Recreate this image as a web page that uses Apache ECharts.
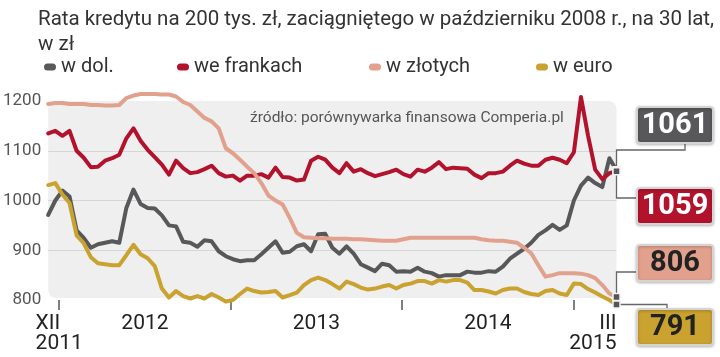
<!DOCTYPE html>
<html><head><meta charset="utf-8">
<script src="https://cdn.jsdelivr.net/npm/echarts@6/dist/echarts.min.js"></script>
<style>html,body{margin:0;padding:0;background:#fff}#c{width:720px;height:357px}</style>
</head><body><div id="c"></div>
<script>
// ---- text ----
const titleText = 'Rata kredytu na 200 tys. zł, zaciągniętego w październiku 2008 r., na 30 lat,\nw zł';
const sourceText = 'źródło: porównywarka finansowa Comperia.pl';
const seriesNames = ['w dol.', 'we frankach', 'w złotych', 'w euro'];
// ---- axes (x in months relative to I 2012) ----
const startMonth = -0.77;   // ~ early XII 2011
const endMonth = 39.0;      // end of III 2015
const yearTicks = [0, 12, 24, 36];
const xLabelValues = [0, 6, 18, 30, 39];
const xLabelTexts = ['{l|XII}\n{l|2011}', '2012', '2013', '2014', '{r|III}\n{r|2015}'];
const yMin = 800, yMax = 1200, yStep = 100;
// ---- data (PLN, roughly semi-monthly) ----
const usd = [971,1000,1020,1008,940,925,905,912,915,918,915,985,1022,993,985,984,970,950,948,917,915,
  907,920,918,898,888,882,878,880,880,892,905,918,895,897,908,912,898,932,933,905,
  893,908,893,872,865,858,873,870,857,858,857,865,857,854,847,850,850,850,857,855,
  855,858,857,867,883,893,903,915,931,940,951,941,950,1000,1030,1046,1035,1027,1085,1061];
const chf = [1135,1140,1130,1140,1100,1086,1067,1068,1080,1085,1092,1125,1145,1120,1102,1087,1072,1052,1080,1065,1055,
  1057,1063,1070,1055,1048,1050,1040,1050,1050,1053,1046,1066,1047,1046,1040,1042,1080,1088,1082,1066,
  1055,1075,1058,1063,1055,1049,1053,1057,1062,1053,1048,1062,1058,1066,1077,1063,1066,1065,1064,1052,
  1045,1055,1055,1058,1070,1080,1074,1070,1070,1082,1086,1082,1075,1097,1208,1130,1062,1043,1055,1059];
const pln = [1194,1196,1196,1194,1194,1194,1192,1192,1191,1191,1192,1206,1211,1214,1214,1214,1213,1213,1209,1198,1192,
  1179,1166,1159,1145,1105,1095,1082,1068,1055,1035,1010,1000,992,965,935,926,925,924,924,923,
  923,923,922,922,921,920,919,919,919,922,925,925,925,925,925,925,925,925,925,925,
  922,920,919,919,917,915,905,894,870,847,850,854,854,854,853,850,844,830,813,806];
const eur = [1031,1035,1012,995,930,914,886,874,872,870,870,890,911,892,884,868,823,805,818,808,803,
  808,803,812,805,797,800,812,823,818,815,816,818,805,810,815,830,840,845,840,832,
  823,837,832,825,821,823,827,830,823,830,833,838,838,833,840,837,840,840,835,820,
  820,817,813,820,823,823,816,812,810,818,820,813,810,833,832,822,815,807,800,791];

const colors = ['#58585a', '#b3122d', '#e2a18d', '#c9a22f'];
const textColors = ['#ffffff', '#ffffff', '#222222', '#222222'];
const allData = [usd, chf, pln, eur];
const xs = usd.map((_, i) => startMonth + i * (endMonth - startMonth) / (usd.length - 1));

const FONT = "Roboto, 'Noto Sans', sans-serif";
const capsule = 'path://M3.5,0 L8.5,0 A3.5,3.5 0 0 1 8.5,7 L3.5,7 A3.5,3.5 0 0 1 3.5,0 Z';
const legendLefts = [44, 177, 369, 536];

const chart = echarts.init(document.getElementById('c'));
chart.setOption({
  animation: false,
  textStyle: {fontFamily: FONT},
  title: [
    {text: titleText, left: 33, top: 2,
     textStyle: {fontFamily: FONT, fontSize: 20.5, fontWeight: 'normal', color: '#333', lineHeight: 25}},
    {text: sourceText, left: 245, top: 105,
     textStyle: {fontFamily: FONT, fontSize: 15.5, fontWeight: 'normal', color: '#555'}}
  ],
  legend: seriesNames.map((n, i) => ({
    data: [n], left: legendLefts[i], top: 57, icon: capsule, itemWidth: 12, itemHeight: 7,
    padding: 0, selectedMode: false,
    textStyle: {fontFamily: FONT, fontSize: 20, color: '#333', padding: [0, 0, 0, 0]}
  })),
  grid: {left: 47, right: 103.5, top: 101, height: 199, show: false},
  xAxis: {
    type: 'value', min: startMonth, max: endMonth,
    axisLine: {show: false}, splitLine: {show: false},
    axisTick: {show: true, customValues: yearTicks, length: 10, lineStyle: {color: '#555', width: 1.5}},
    axisLabel: {
      customValues: xLabelValues, margin: 14, alignMaxLabel: 'right',
      fontFamily: FONT, fontSize: 21, color: '#222', lineHeight: 20,
      formatter: v => { const k = xLabelValues.indexOf(v); return k >= 0 ? xLabelTexts[k] : ''; },
      rich: {
        l: {align: 'left', fontFamily: FONT, fontSize: 21, color: '#222', lineHeight: 20},
        r: {align: 'right', fontFamily: FONT, fontSize: 21, color: '#222', lineHeight: 20}
      }
    }
  },
  yAxis: {
    type: 'value', min: yMin, max: yMax, interval: yStep,
    axisLine: {show: false}, axisTick: {show: false},
    axisLabel: {fontFamily: FONT, fontSize: 17, color: '#555', margin: 7, formatter: v => String(v)},
    splitLine: {show: true, showMinLine: false, showMaxLine: false, lineStyle: {color: '#d6d6d6', width: 1}}
  },
  series: seriesNames.map((n, i) => ({
    name: n, type: 'line', data: allData[i].map((v, j) => [xs[j], v]),
    showSymbol: false, symbol: 'none', clip: false, smooth: false,
    lineStyle: {color: colors[i], width: 4, join: 'round', cap: 'round'},
    itemStyle: {color: colors[i]}, z: 2 + i
  }))
});

// ---- plot background (rounded) ----
const tl = chart.convertToPixel({gridIndex: 0}, [startMonth, yMax]);
const br = chart.convertToPixel({gridIndex: 0}, [endMonth, yMin]);

// ---- callouts ----
const boxX = 637, boxW = 76, boxH = 36;
const boxTops = [107, 188, 245, 309];
const last = usd.length - 1;
const ends = allData.map(d => chart.convertToPixel({gridIndex: 0}, [xs[last], d[last]]));
const lc = {stroke: '#666', lineWidth: 1.3, fill: null};
const leaders = [
  [ends[0], [ends[0][0], 150], [685, 150], [685, boxTops[0] + boxH]],
  [ends[1], [ends[1][0], 198], [boxX, 198]],
  [ends[2], [ends[2][0], 272], [boxX, 272]],
  [ends[3], [667, ends[3][1]], [667, boxTops[3]]]
];
const g = [{type: 'rect', shape: {x: tl[0], y: tl[1], width: br[0] - tl[0], height: br[1] - tl[1] - 2, r: 8},
  style: {fill: '#efefef'}, z: -10, silent: true}];
leaders.forEach(pts => g.push({type: 'polyline', shape: {points: pts}, style: lc, z: 10}));
allData.forEach((d, i) => {
  g.push({type: 'rect', shape: {x: boxX, y: boxTops[i], width: boxW, height: boxH, r: 3},
    style: {fill: colors[i], stroke: '#d4d4d4', lineWidth: 2, shadowBlur: 3, shadowColor: 'rgba(0,0,0,0.25)', shadowOffsetY: 1}, z: 10});
  g.push({type: 'text', x: boxX + boxW / 2, y: boxTops[i] + boxH / 2 + 1,
    style: {text: String(d[last]), fill: textColors[i], font: "bold 29px " + FONT, align: 'center', verticalAlign: 'middle'}, z: 11});
});
ends.forEach(p => g.push({type: 'rect', shape: {x: p[0] - 3.5, y: p[1] - 3.5, width: 7, height: 7},
  style: {fill: '#555', stroke: '#f4f4f4', lineWidth: 1.5}, z: 12}));
chart.setOption({graphic: g});
</script></body></html>
